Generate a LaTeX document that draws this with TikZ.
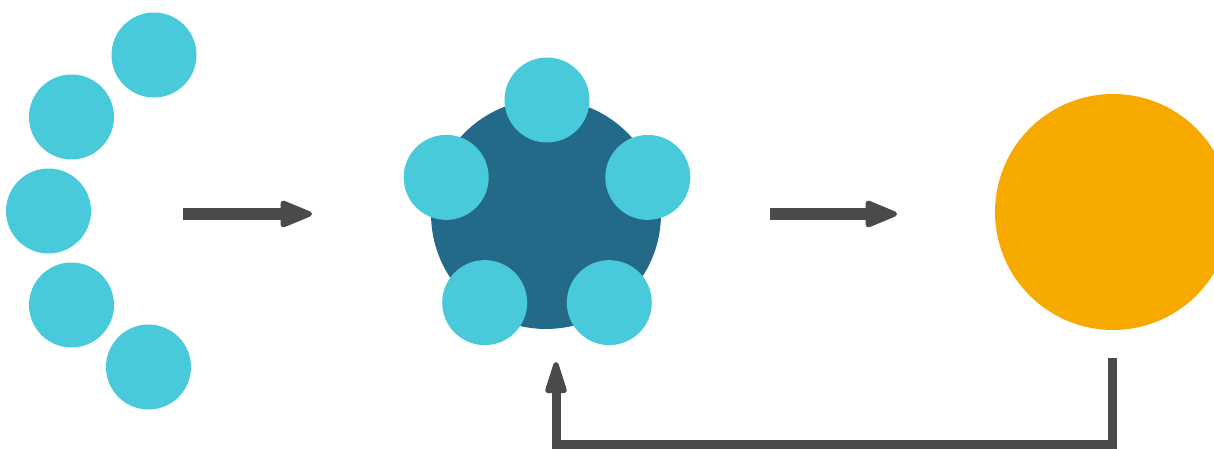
\documentclass[tikz,border=0pt]{standalone}
\usetikzlibrary{arrows.meta,calc}
\definecolor{bead}{HTML}{48CADB}
\definecolor{core}{HTML}{236A89}
\definecolor{sun}{HTML}{F6AA00}
\definecolor{flowgray}{HTML}{4A4A4A}
\tikzset{
  bead/.style={circle, fill=bead, inner sep=0pt, minimum size=1.7cm},
  flow/.style={flowgray, line width=0.24cm,
    -{Triangle[length=0.72cm, width=0.56cm, round, line width=3pt]}},
  backflow/.style={flowgray, line width=0.18cm,
    -{Triangle[length=0.76cm, width=0.44cm, round, line width=3pt]}}
}
\begin{document}
\begin{tikzpicture}[x=0.02cm, y=-0.02cm]
\useasboundingbox (0,0) rectangle (1214,449);
% loose beads
\foreach \x/\y [count=\i] in {154/55, 71.5/117, 48.5/211, 71.5/305, 148.5/367}
  \node[bead] (free\i) at (\x,\y) {};
% assembled cluster
\node[circle, fill=core, inner sep=0pt, minimum size=4.6cm] (hub) at (546,214) {};
\foreach \i in {0,...,4}
  \node[bead] (ring\i) at ($(547,212)+(90+72*\i:106 and -112)$) {};
% product
\node[circle, fill=sun, inner sep=0pt, minimum size=4.72cm] (sun) at (1113,212) {};
% connectors
\coordinate (in1) at (183,214);
\coordinate (out1) at (312,214);
\coordinate (in2) at (770,214);
\coordinate (out2) at (897,214);
\coordinate (back) at (1112,358);
\coordinate (tip) at (556,362);
\draw[flow] (in1) -- (out1);
\draw[flow] (in2) -- (out2);
\draw[backflow] (back) |- (556,444) -- (tip);
\end{tikzpicture}
\end{document}
